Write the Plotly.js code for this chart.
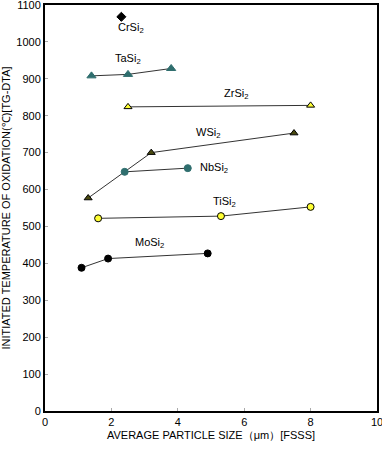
<!DOCTYPE html>
<html><head><meta charset="utf-8">
<script src="https://cdn.plot.ly/plotly-3.0.1.min.js"></script>
<style>html,body{margin:0;padding:0;background:#fff}#c{width:382px;height:449px}</style>
</head><body><div id="c"></div>
<script>
const crX=[2.3], crY=[1068];
const taX=[1.4,2.5,3.8], taY=[908,912,928];
const zrX=[2.5,8.0], zrY=[824,828];
const wX=[1.3,3.2,7.5], wY=[577,700,753];
const nbX=[2.4,4.3], nbY=[648,658];
const tiX=[1.6,5.3,8.0], tiY=[522,528,553];
const moX=[1.1,1.9,4.9], moY=[388,413,427];
const xTicks=[0,2,4,6,8,10];
const yTicks=[0,100,200,300,400,500,600,700,800,900,1000,1100];
const labels=[
 {t:'CrSi<sub>2</sub>',x:2.6,y:1038},
 {t:'TaSi<sub>2</sub>',x:2.5,y:955},
 {t:'ZrSi<sub>2</sub>',x:5.75,y:858},
 {t:'WSi<sub>2</sub>',x:4.9,y:753},
 {t:'NbSi<sub>2</sub>',x:5.1,y:658},
 {t:'TiSi<sub>2</sub>',x:5.4,y:566},
 {t:'MoSi<sub>2</sub>',x:3.15,y:455}
];
const lineStyle={color:'#333',width:1};
function tr(x,y,sym,fill,lc,sz){return {x:x,y:y,type:'scatter',mode:'lines+markers',line:lineStyle,
 marker:{symbol:sym,color:fill,size:sz,line:{color:lc,width:1}},hoverinfo:'none'};}
const data=[
 tr(crX,crY,'diamond','#000','#000',7),
 tr(taX,taY,'triangle-up','#2f6e6e','#2f6e6e',8),
 tr(zrX,zrY,'triangle-up','#ffff33','#000',7),
 tr(wX,wY,'triangle-up','#4a4a10','#000',7),
 tr(nbX,nbY,'circle','#2f6e6e','#2f6e6e',7),
 tr(tiX,tiY,'circle','#ffff33','#000',7),
 tr(moX,moY,'circle','#000','#000',7)
];
const layout={width:382,height:449,margin:{l:45,r:5,t:5,b:38},
 paper_bgcolor:'#fff',plot_bgcolor:'#fff',showlegend:false,
 font:{family:'Liberation Sans, Arial, sans-serif',size:10,color:'#000'},
 xaxis:{range:[0,10],tickmode:'array',tickvals:xTicks,ticktext:xTicks.map(String),showgrid:false,zeroline:false,showline:true,mirror:true,linecolor:'#000',linewidth:2,
  ticks:'inside',ticklen:3,tickcolor:'#aaa',tickfont:{size:11},automargin:false,ticklabeloverflow:'allow',
  title:{text:'AVERAGE PARTICLE SIZE（μm）[FSSS]',font:{size:11},standoff:4}},
 yaxis:{range:[0,1100],tickmode:'array',tickvals:yTicks,ticktext:yTicks.map(String),showgrid:false,zeroline:false,showline:true,mirror:true,linecolor:'#000',linewidth:2,
  ticks:'inside',ticklen:3,tickcolor:'#aaa',tickfont:{size:11},automargin:false,ticklabeloverflow:'allow',
  title:{text:'INITIATED TEMPERATURE OF OXIDATION(℃)[TG-DTA]',font:{size:11},standoff:4}},
 annotations:labels.map(l=>({x:l.x,y:l.y,text:l.t,showarrow:false,font:{size:11},xanchor:'center',yanchor:'middle'}))
};
Plotly.newPlot('c',data,layout,{displayModeBar:false,staticPlot:true});
</script></body></html>
